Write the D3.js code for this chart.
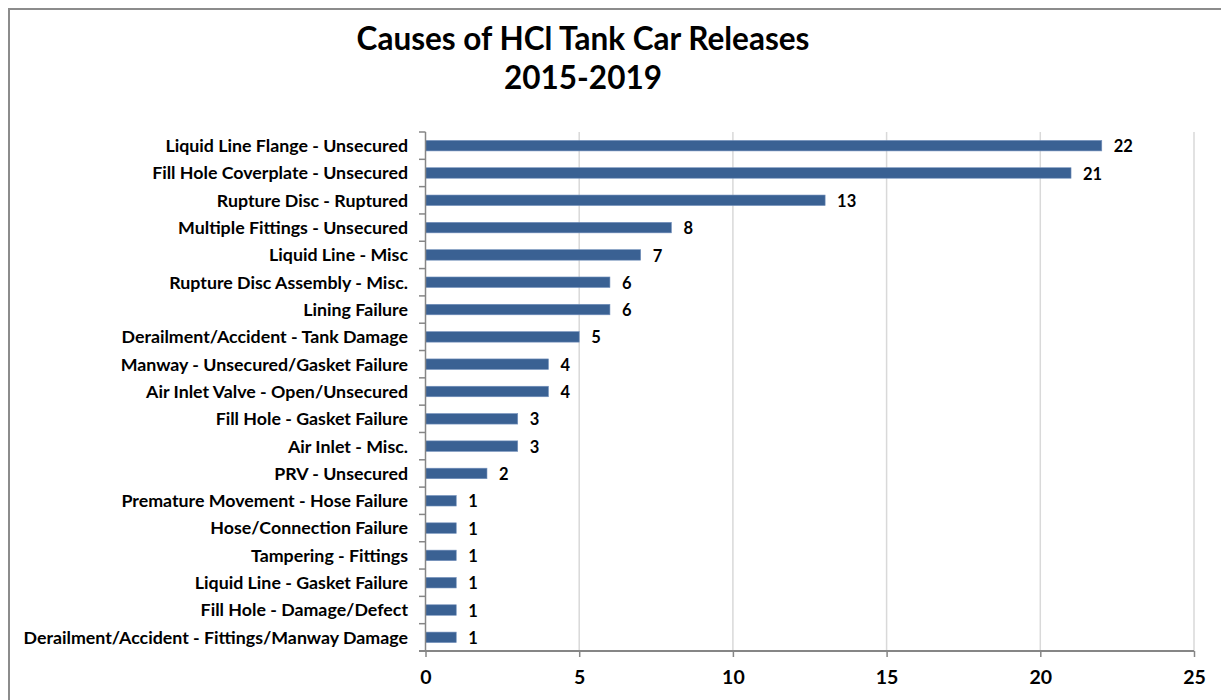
<!DOCTYPE html>
<html><head><meta charset="utf-8">
<script src="https://cdn.jsdelivr.net/npm/d3@7"></script>
<style>
html,body{margin:0;padding:0;background:#fff;overflow:hidden;}
svg{display:block;font-family:Lato,"Open Sans",sans-serif;}
</style></head>
<body><svg id="c" width="1221" height="700"></svg>
<script>
const categories = [
"Liquid Line Flange - Unsecured",
"Fill Hole Coverplate - Unsecured",
"Rupture Disc - Ruptured",
"Multiple Fittings - Unsecured",
"Liquid Line - Misc",
"Rupture Disc Assembly - Misc.",
"Lining Failure",
"Derailment/Accident - Tank Damage",
"Manway - Unsecured/Gasket Failure",
"Air Inlet Valve - Open/Unsecured",
"Fill Hole - Gasket Failure",
"Air Inlet - Misc.",
"PRV - Unsecured",
"Premature Movement - Hose Failure",
"Hose/Connection Failure",
"Tampering - Fittings",
"Liquid Line - Gasket Failure",
"Fill Hole - Damage/Defect",
"Derailment/Accident - Fittings/Manway Damage"];
const values = [22,21,13,8,7,6,6,5,4,4,3,3,2,1,1,1,1,1,1];
const xTicks = [0,5,10,15,20,25];
const titleLines = ["Causes of HCl Tank Car Releases","2015-2019"];

const svg = d3.select("#c");
// chart border (top and left visible; right/bottom fall outside the frame)
svg.append("line").attr("x1",8.5).attr("x2",1221).attr("y1",9).attr("y2",9).attr("stroke","#8c8c8c").attr("stroke-width",2);
svg.append("line").attr("x1",9).attr("x2",9).attr("y1",8).attr("y2",700).attr("stroke","#8c8c8c").attr("stroke-width",2);

const L=425.5, R=1194, T=132, B=651;
const x = d3.scaleLinear().domain([0,25]).range([L,R]);
const y = d3.scaleBand().domain(categories).range([T,B]).paddingInner(0.615).paddingOuter(0.3075);
const yb = d3.scaleBand().domain(categories).range([T,B]);

// gridlines
svg.append("g").selectAll("line").data(xTicks.filter(d=>d>0)).join("line")
  .attr("x1",d=>x(d)).attr("x2",d=>x(d)).attr("y1",T).attr("y2",B)
  .attr("stroke","#d9d9d9").attr("stroke-width",1.5);

// bars
svg.append("g").selectAll("rect").data(values).join("rect")
  .attr("x",x(0)).attr("y",(d,i)=>y(categories[i]))
  .attr("width",d=>x(d)-x(0)).attr("height",y.bandwidth())
  .attr("fill","#3a6193").attr("stroke","#7592bd").attr("stroke-width",0.6);

// x axis
const xa = svg.append("g").attr("transform",`translate(0,${B})`)
  .call(d3.axisBottom(x).tickValues(xTicks).tickSize(6).tickSizeOuter(0).tickPadding(13));
xa.select(".domain").remove();
xa.append("line").attr("x1",419).attr("x2",R).attr("y1",0).attr("y2",0).attr("stroke","#868686").attr("stroke-width",2);
xa.selectAll(".tick line").attr("stroke","#868686").attr("stroke-width",1.5);
xa.selectAll(".tick text").attr("fill","#000").attr("font-size",19.5).attr("font-weight","bold").attr("font-family","Lato");

// y axis line and ticks at band boundaries
const yg = svg.append("g");
yg.append("line").attr("x1",L).attr("x2",L).attr("y1",T).attr("y2",B).attr("stroke","#868686").attr("stroke-width",1.5);
yg.selectAll("line.t").data(categories).join("line").attr("class","t")
  .attr("x1",419).attr("x2",L).attr("y1",d=>yb(d)).attr("y2",d=>yb(d))
  .attr("stroke","#868686").attr("stroke-width",1.5);
yg.selectAll("text").data(categories).join("text")
  .attr("x",408).attr("y",d=>yb(d)+yb.bandwidth()/2).attr("dy","0.36em")
  .attr("text-anchor","end").attr("font-size",17.8).attr("font-weight","bold").attr("fill","#000")
  .text(d=>d);

// value labels
svg.append("g").selectAll("text").data(values).join("text")
  .attr("x",d=>x(d)+12).attr("y",(d,i)=>yb(categories[i])+yb.bandwidth()/2).attr("dy","0.4em")
  .attr("font-size",16.5).attr("font-weight","bold").attr("fill","#000").text(d=>d);

// title
svg.append("g").selectAll("text").data(titleLines).join("text")
  .attr("x",583).attr("y",(d,i)=>50+i*38.5).attr("text-anchor","middle")
  .attr("font-size",31.5).attr("font-weight","bold").attr("fill","#000").text(d=>d);
</script></body></html>
